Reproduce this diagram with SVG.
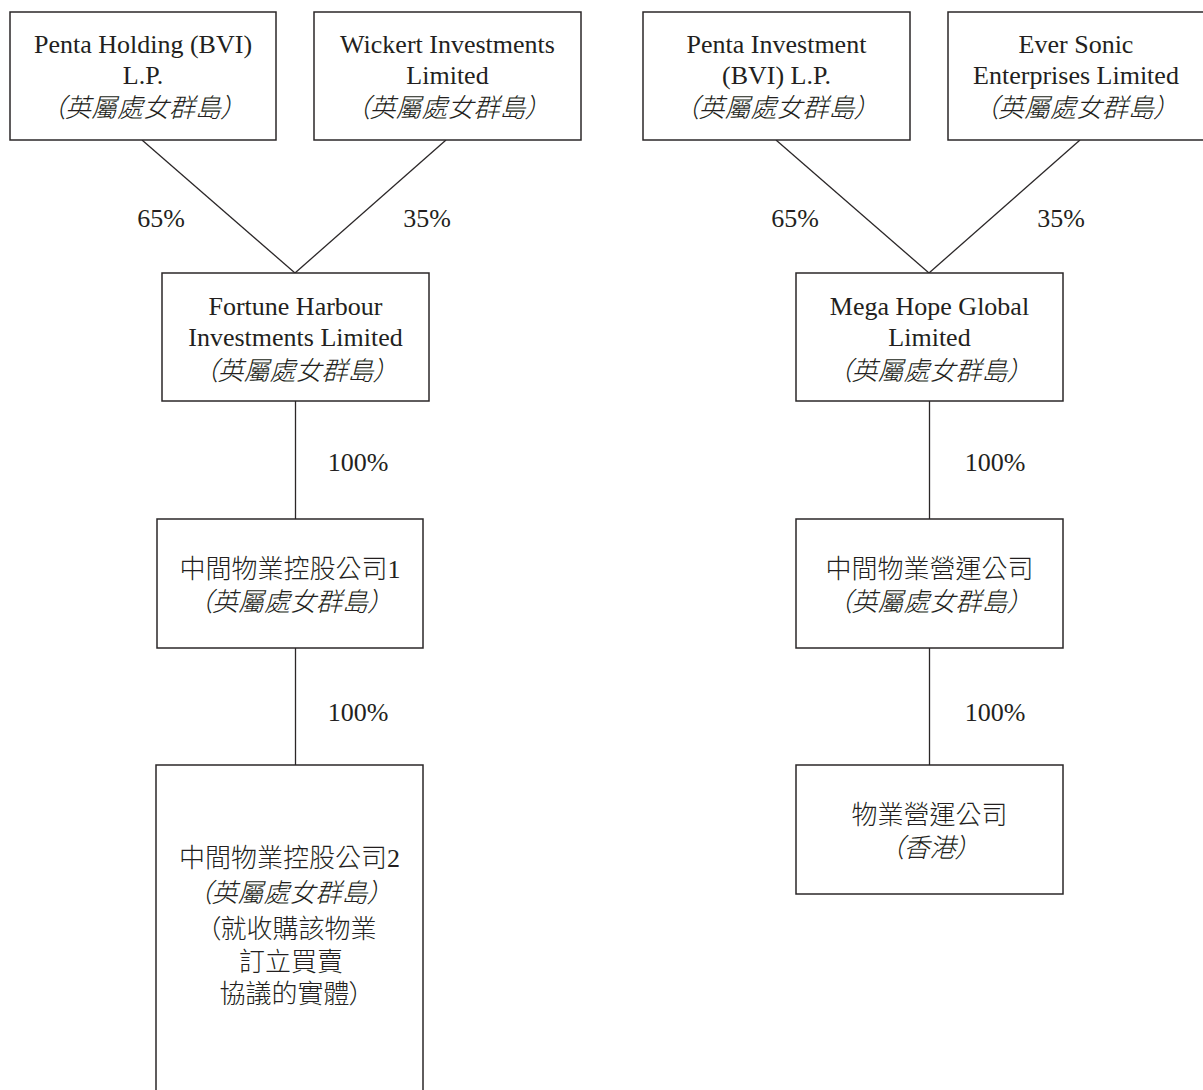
<svg xmlns="http://www.w3.org/2000/svg" width="1203" height="1090" viewBox="0 0 1203 1090">
<style>
.box{fill:#fff;stroke:#2b2728;stroke-width:1.5}
.con line{stroke:#2b2728;stroke-width:1.3;fill:none}
.t{font-family:"Liberation Serif","Noto Sans CJK TC",serif;font-size:26px;fill:#231f20;text-anchor:middle}
.c{font-feature-settings:"palt";font-weight:300}
.it{font-style:italic;font-feature-settings:"palt";font-weight:300}
.p{font-family:"Liberation Serif",serif;font-size:26px;fill:#231f20;text-anchor:middle}
</style>
<rect width="1203" height="1090" fill="#fff"/>
<g id="connectors" class="con">
<line x1="142" y1="140" x2="295" y2="273"/>
<line x1="446" y1="140" x2="295" y2="273"/>
<line x1="776" y1="140" x2="929" y2="273"/>
<line x1="1080" y1="140" x2="929" y2="273"/>
<line x1="295.5" y1="401" x2="295.5" y2="519"/>
<line x1="295.5" y1="648" x2="295.5" y2="765"/>
<line x1="929.5" y1="401" x2="929.5" y2="519"/>
<line x1="929.5" y1="648" x2="929.5" y2="765"/>
<text class="p" x="161" y="227">65%</text>
<text class="p" x="427" y="227">35%</text>
<text class="p" x="795" y="227">65%</text>
<text class="p" x="1061" y="227">35%</text>
<text class="p" x="358" y="471">100%</text>
<text class="p" x="358" y="721">100%</text>
<text class="p" x="995" y="471">100%</text>
<text class="p" x="995" y="721">100%</text>
</g>
<g id="penta-holding">
<rect class="box" x="10" y="12" width="266" height="128"/>
<text class="t" x="143" y="53">Penta Holding (BVI)</text>
<text class="t" x="143" y="84">L.P.</text>
<text class="t it" x="143" y="117">（英屬處女群島）</text>
</g>
<g id="wickert">
<rect class="box" x="314" y="12" width="267" height="128"/>
<text class="t" x="447.5" y="53">Wickert Investments</text>
<text class="t" x="447.5" y="84">Limited</text>
<text class="t it" x="447.5" y="117">（英屬處女群島）</text>
</g>
<g id="penta-investment">
<rect class="box" x="643" y="12" width="267" height="128"/>
<text class="t" x="776.5" y="53">Penta Investment</text>
<text class="t" x="776.5" y="84">(BVI) L.P.</text>
<text class="t it" x="776.5" y="117">（英屬處女群島）</text>
</g>
<g id="ever-sonic">
<rect class="box" x="948" y="12" width="257" height="128"/>
<text class="t" x="1076" y="53">Ever Sonic</text>
<text class="t" x="1076" y="84">Enterprises Limited</text>
<text class="t it" x="1076" y="117">（英屬處女群島）</text>
</g>
<g id="fortune-harbour">
<rect class="box" x="162" y="273" width="267" height="128"/>
<text class="t" x="295.5" y="315">Fortune Harbour</text>
<text class="t" x="295.5" y="346">Investments Limited</text>
<text class="t it" x="295.5" y="380">（英屬處女群島）</text>
</g>
<g id="mega-hope">
<rect class="box" x="796" y="273" width="267" height="128"/>
<text class="t" x="929.5" y="315">Mega Hope Global</text>
<text class="t" x="929.5" y="346">Limited</text>
<text class="t it" x="929.5" y="380">（英屬處女群島）</text>
</g>
<g id="holding-1">
<rect class="box" x="157" y="519" width="266" height="129"/>
<text class="t c" x="290" y="578">中間物業控股公司1</text>
<text class="t it" x="290" y="611">（英屬處女群島）</text>
</g>
<g id="operating-mid">
<rect class="box" x="796" y="519" width="267" height="129"/>
<text class="t c" x="929.5" y="578">中間物業營運公司</text>
<text class="t it" x="929.5" y="611">（英屬處女群島）</text>
</g>
<g id="holding-2">
<rect class="box" x="156" y="765" width="267" height="340"/>
<text class="t c" x="289.5" y="867">中間物業控股公司2</text>
<text class="t it" x="289.5" y="902">（英屬處女群島）</text>
<text class="t c" x="292" y="938">（就收購該物業</text>
<text class="t c" x="291" y="971">訂立買賣</text>
<text class="t c" x="291" y="1003">協議的實體）</text>
</g>
<g id="operating-hk">
<rect class="box" x="796" y="765" width="267" height="129"/>
<text class="t c" x="929.5" y="824">物業營運公司</text>
<text class="t it" x="929.5" y="857">（香港）</text>
</g>
</svg>
